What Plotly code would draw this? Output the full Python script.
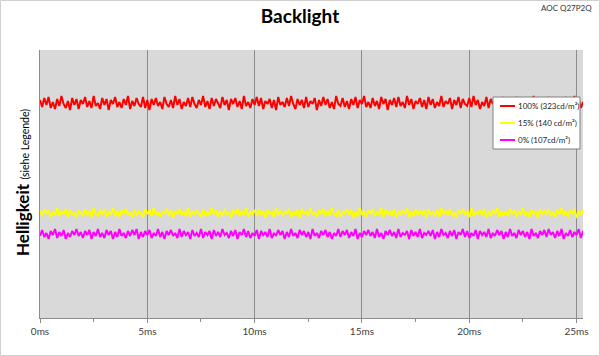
import numpy as np
import plotly.graph_objects as go

# time step of the samples (ms)
T_STEP = 0.1

# brightness levels (arbitrary units, no y scale shown)
RED_LEVEL = 215
YELLOW_LEVEL = 105
MAGENTA_LEVEL = 84

red_noise = [3,-4,5,-2,6,-5,1,-6,4,-3,7,-1,-5,2,-7,5,-2,4,-6,3,
-1,6,-4,2,-5,7,-3,0,-6,5,-2,4,-7,3,-1,6,-4,1,-5,4,
-2,7,-6,2,-3,5,-1,-4,6,-5,3,-7,4,-2,5,-3,1,-6,6,-1,
-4,3,-5,7,-2,4,-6,1,-3,5,-4,6,-1,-5,3,-2,7,-4,2,-6,
5,-3,4,-1,-5,6,-2,3,-7,4,-1,5,-4,2,-6,7,-3,1,-5,4,
-2,6,-3,5,-6,2,-1,4,-5,3,-7,6,-2,1,-4,5,-3,7,-1,-6,
4,-2,3,-5,6,-4,2,-1,5,-7,3,-3,6,-2,4,-5,1,-6,7,-1,
-3,5,-4,2,-6,4,-2,6,-5,3,-1,7,-4,1,-5,5,-3,2,-6,6,
-1,4,-7,3,-2,5,-4,6,-3,1,-5,7,-2,4,-6,2,-1,5,-4,3,
-6,6,-2,4,-5,1,-3,7,-4,2,-1,5,-6,3,-2,6,-5,4,-1,-3,
5,-4,7,-2,3,-6,1,-3,6,-5,4,-1,2,-7,5,-3,6,-2,4,-4,
1,-5,6,-3,2,-6,5,-1,4,-4,7,-3,3,-5,2,-1,
-4,6,-2,5,-7,3,-1,4,-5,6,-3,2,-6,7,-2,4,-5,1,-3,5]

yellow_noise = [2,-3,4,-1,3,-4,1,-2,5,-3,2,-1,4,-4,3,-2,1,-5,3,0,
-3,4,-2,2,-4,5,-1,-3,3,-2,4,-4,1,-1,5,-3,2,-4,3,-1,
4,-2,1,-5,3,-3,2,0,-4,4,-1,3,-3,5,-2,1,-4,2,-1,4,
-3,3,-5,2,-1,4,-2,1,-3,5,-4,2,-2,3,-1,-4,4,-3,1,-2,
5,-1,3,-4,2,-3,4,-2,1,-5,3,-1,4,-3,2,-2,5,-4,1,-1,
3,-3,4,-2,2,-5,3,-1,1,-4,5,-2,3,-3,2,-1,4,-4,1,-2,
3,-5,4,-1,2,-3,5,-2,1,-4,3,-1,4,-3,2,-2,5,-1,-3,3,
-4,2,-1,4,-2,3,-5,1,-3,5,-2,2,-4,3,-1,4,-3,1,-2,5,
-4,3,-1,2,-3,4,-5,2,-2,3,-1,5,-4,1,-3,4,-2,2,-1,3,
-5,4,-2,1,-3,3,-4,5,-1,2,-2,4,-3,1,-5,3,-1,4,-2,2,
-4,5,-3,1,-1,3,-2,4,-5,2,-3,3,-1,5,-4,2,-2,1,-3,4,
-1,3,-4,2,-2,5,-3,1,-4,3,-1,2,-5,4,-2,3,
-2,4,-3,1,-4,3,-1,5,-2,2,-4,3,-1,4,-5,2,-2,3,-3,1]

magenta_noise = [-2,4,-3,1,-5,3,-1,5,-4,2,-2,4,-5,1,-3,3,-1,5,-2,2,
-4,3,-1,4,-5,2,-2,5,-3,1,-4,4,-1,3,-5,2,-3,5,-2,1,
-4,3,-2,4,-1,5,-5,2,-3,3,-1,4,-4,1,-2,5,-3,2,-5,3,
-1,4,-2,1,-4,5,-3,3,-1,2,-5,4,-2,1,-3,5,-4,2,-1,3,
-5,4,-2,2,-3,5,-1,1,-4,3,-2,4,-5,2,-1,5,-3,3,-4,1,
-2,4,-5,3,-1,2,-3,5,-4,1,-2,4,-1,3,-5,2,-3,5,-2,1,
-4,4,-1,3,-3,2,-5,5,-2,1,-4,3,-1,4,-3,2,-5,1,-2,5,
-3,3,-1,4,-4,2,-2,5,-5,1,-3,3,-1,4,-2,2,-4,5,-3,1,
-5,3,-1,4,-2,2,-4,5,-3,1,-1,3,-5,4,-2,2,-3,5,-4,1,
-1,3,-2,4,-5,2,-3,5,-1,1,-4,3,-2,4,-5,2,-1,5,-3,3,
-4,1,-2,4,-5,3,-1,2,-3,5,-4,1,-2,4,-1,3,-5,2,-3,5,
-2,1,-4,4,-1,3,-3,2,-5,5,-2,1,-4,3,-1,4,
-3,5,-1,2,-4,3,-2,5,-5,1,-2,4,-3,2,-1,5,-4,3,-2,1]

series_names = ["100% (323cd/m²)", "15% (140 cd/m²)", "0% (107cd/m²)"]
series_colors = ["#FF0000", "#FFFF00", "#FF00FF"]
x_ticks = [0, 5, 10, 15, 20, 25]
x_tick_labels = ["0ms", "5ms", "10ms", "15ms", "20ms", "25ms"]

FONT = "Lato"

# pixel -> paper helpers (plot area: x 40..583, y 50..318)
def px(x):
    return (x - 40) / 543

def py(y):
    return (318 - y) / 268

fig = go.Figure()
for name, color, level, noise in zip(series_names, series_colors,
                                     [RED_LEVEL, YELLOW_LEVEL, MAGENTA_LEVEL],
                                     [red_noise, yellow_noise, magenta_noise]):
    t = np.arange(len(noise)) * T_STEP
    fig.add_trace(go.Scatter(x=t, y=np.array(noise) + level, mode="lines",
                             name=name, showlegend=False,
                             line=dict(color=color, width=2)))

fig.update_layout(
    width=600, height=356,
    margin=dict(l=40, r=17, t=50, b=38),
    paper_bgcolor="white",
    plot_bgcolor="#D9D9D9",
    font=dict(family=FONT, color="#404040"),
    title=dict(text="<b>Backlight</b>", x=0.5, xanchor="center", y=1 - 16 / 356,
               yanchor="middle", font=dict(size=19, color="black", family=FONT)),
    showlegend=False,
    xaxis=dict(range=[0, 25.3], tickvals=x_ticks, ticktext=x_tick_labels,
               showgrid=True, gridcolor="#8C8C8C", gridwidth=1,
               showline=True, linecolor="#8C8C8C", linewidth=1,
               ticks="outside", ticklen=4, tickcolor="#8C8C8C",
               minor=dict(dtick=2.5, tick0=0, ticks="outside", ticklen=3,
                          tickcolor="#8C8C8C", showgrid=False),
               tickfont=dict(size=10, color="#404040"), zeroline=False),
    yaxis=dict(range=[0, 268], showticklabels=False, showgrid=False, zeroline=False,
               showline=True, linecolor="#8C8C8C", linewidth=1, ticks=""),
)

# custom legend box
fig.add_shape(type="rect", xref="paper", yref="paper",
              x0=px(493), x1=px(580), y0=py(149), y1=py(97),
              fillcolor="white", line=dict(color="#808080", width=1), layer="above")
for i, (name, color) in enumerate(zip(series_names, series_colors)):
    yy = 106 + 17 * i
    fig.add_shape(type="line", xref="paper", yref="paper",
                  x0=px(500), x1=px(515), y0=py(yy), y1=py(yy),
                  line=dict(color=color, width=2), layer="above")
    fig.add_annotation(text=name, xref="paper", yref="paper",
                       x=px(516), y=py(yy), xanchor="left", yanchor="middle",
                       showarrow=False, font=dict(size=8, color="#222222", family=FONT))

fig.add_annotation(text="AOC Q27P2Q", xref="paper", yref="paper",
                   x=px(594), y=py(8), xanchor="right", yanchor="middle",
                   showarrow=False, font=dict(size=8, color="#333333", family=FONT))

fig.add_annotation(text="<b>Helligkeit</b> <span style='font-size:10.5px'>(siehe Legende)</span>",
                   xref="paper", yref="paper", x=px(22), y=py(183),
                   xanchor="center", yanchor="middle", textangle=-90, showarrow=False,
                   font=dict(size=17, color="black", family=FONT))

fig.add_shape(type="rect", xref="paper", yref="paper",
              x0=px(0.5), x1=px(599.5), y0=py(355.5), y1=py(0.5),
              line=dict(color="#D0D0D0", width=1), layer="below")

fig.write_html("out.html", config={"displayModeBar": False},
               post_script="document.body.style.margin='0';document.body.style.overflow='hidden';")
